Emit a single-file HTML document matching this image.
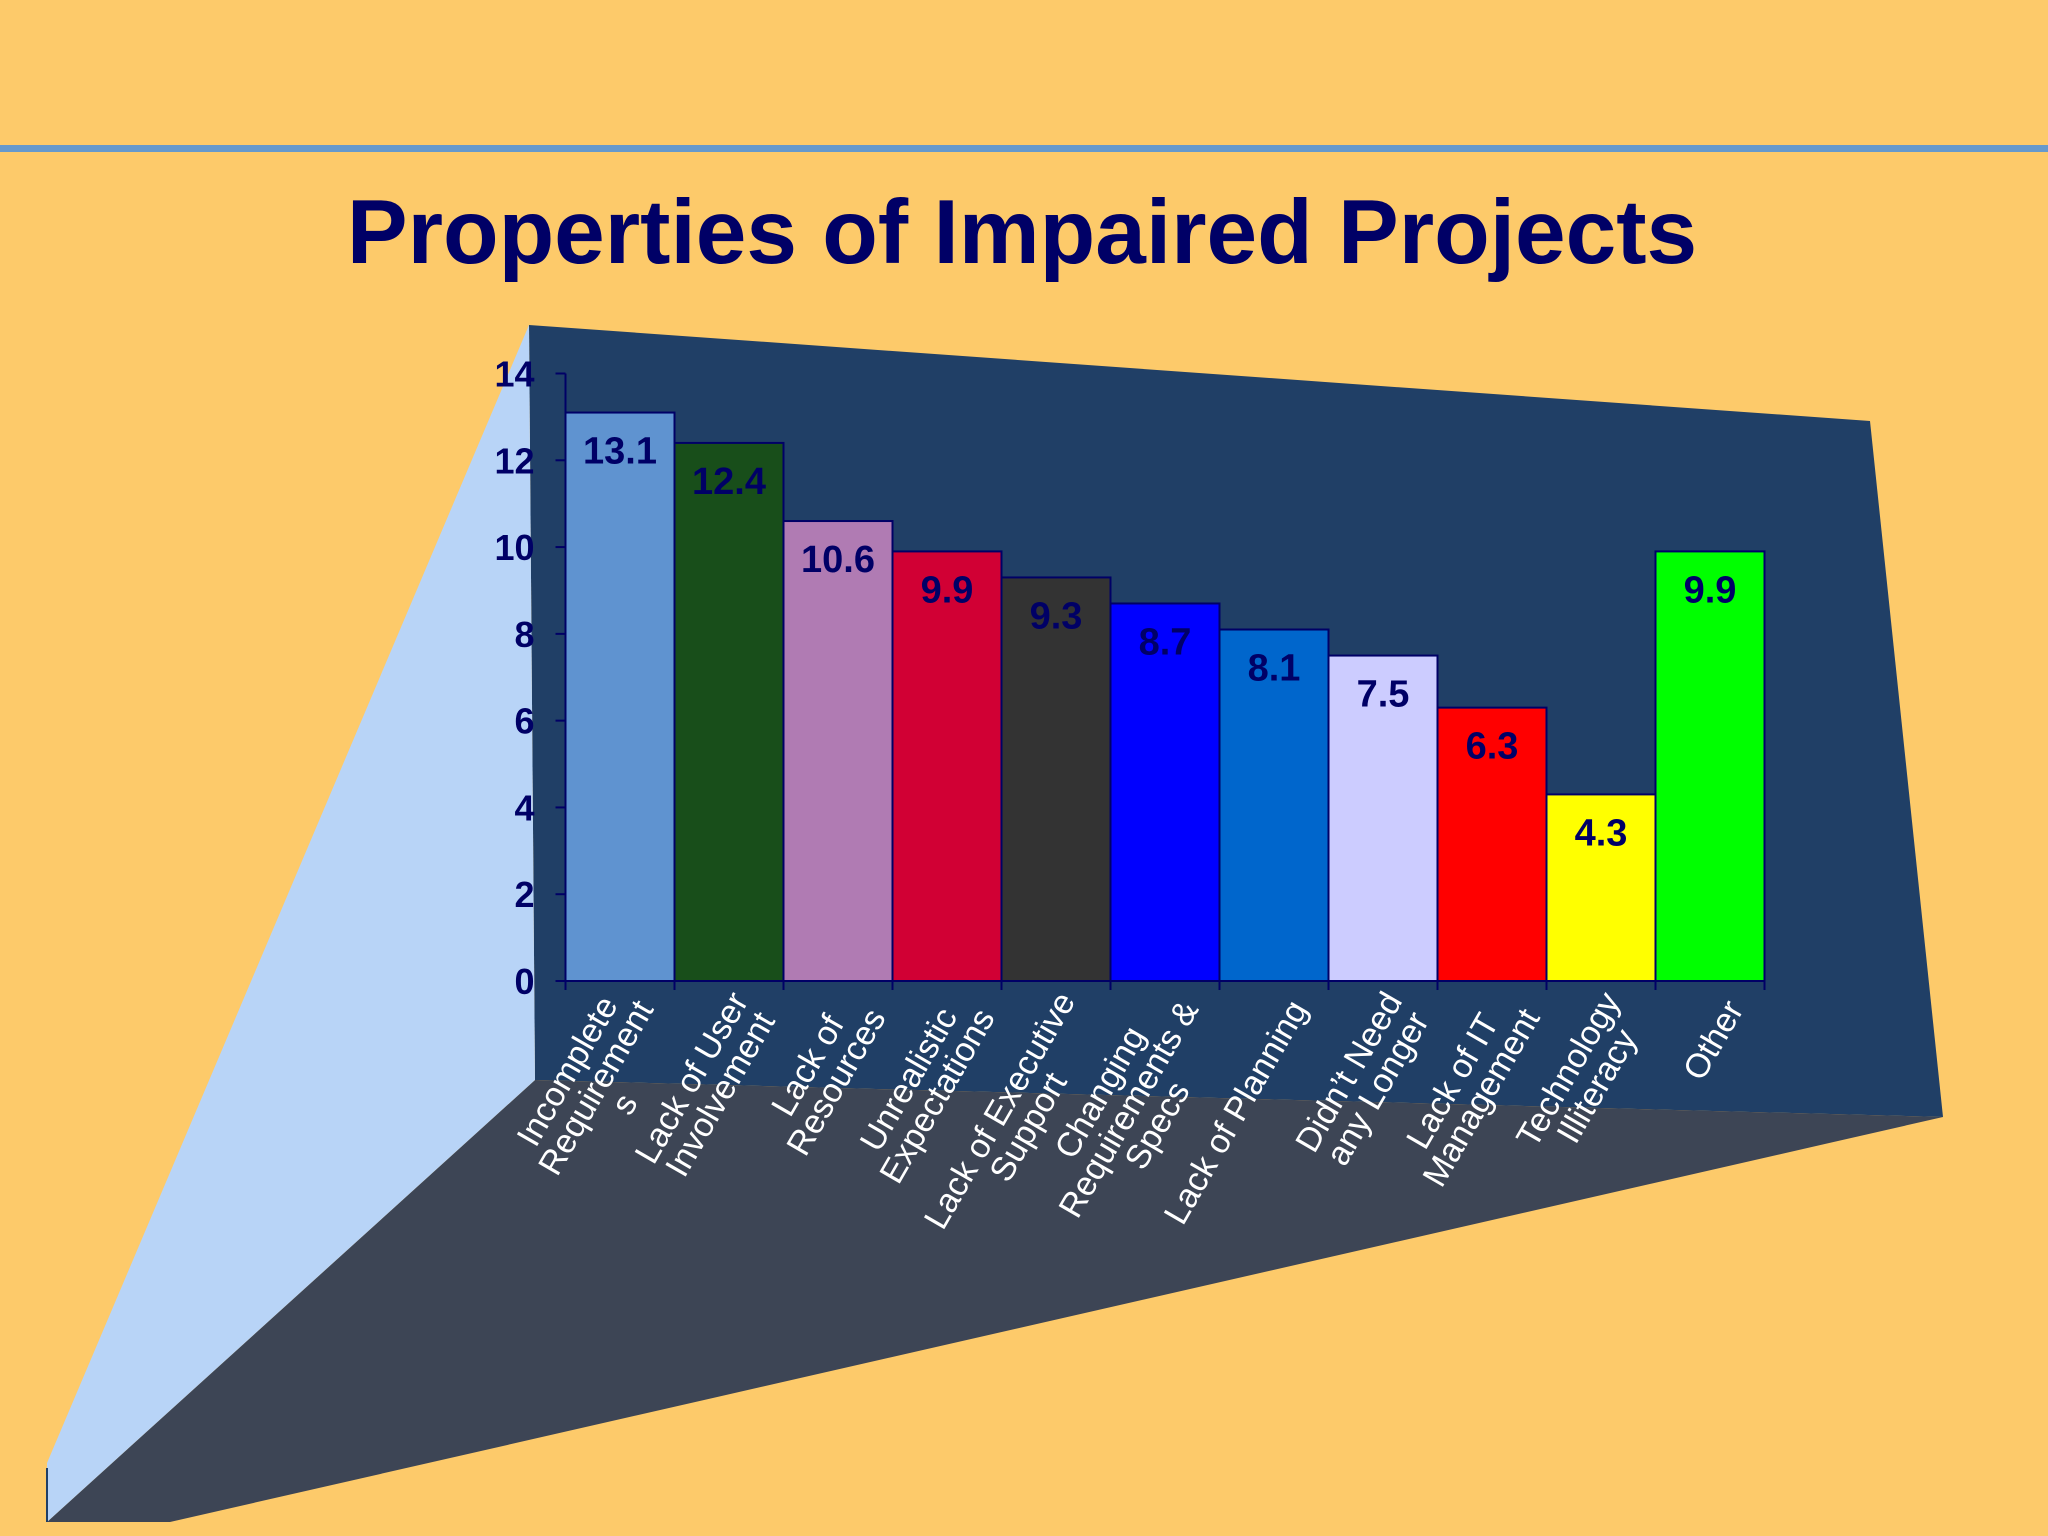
<!DOCTYPE html>
<html><head><meta charset="utf-8"><style>
html,body{margin:0;padding:0;background:#fdca6a;}
svg{display:block;}
</style></head><body>
<svg id="chart" width="2048" height="1536" viewBox="0 0 2048 1536" xmlns="http://www.w3.org/2000/svg">
<rect x="0" y="0" width="2048" height="1536" fill="#fdca6a"/>
<rect x="0" y="145" width="2048" height="7" fill="#6699cc"/>
<text x="1022" y="263" text-anchor="middle" font-family="Liberation Sans, sans-serif" font-weight="bold" font-size="91" fill="#000066">Properties of Impaired Projects</text>
<polygon points="529,325 1870,421 1943,1117 535,1080" fill="#203f66"/>
<polygon points="535,1080 1943,1117 170,1522 47,1522" fill="#3d4555"/>
<polygon points="529,325 47,1463 47,1522 535,1080" fill="#b8d4f7"/>
<line x1="47" y1="1468" x2="47" y2="1522" stroke="#203f66" stroke-width="2"/>
<g id="plot"></g>
</svg>
<script>
const categories = [["Incomplete","Requirement","s"],["Lack of User","Involvement"],["Lack of","Resources"],["Unrealistic","Expectations"],["Lack of Executive","Support"],["Changing","Requirements &","Specs"],["Lack of Planning"],["Didn\u2019t Need","any Longer"],["Lack of IT","Management"],["Technology","Illiteracy"],["Other"]];
const values = [13.1,12.4,10.6,9.9,9.3,8.7,8.1,7.5,6.3,4.3,9.9];
const valueLabels = ["13.1","12.4","10.6","9.9","9.3","8.7","8.1","7.5","6.3","4.3","9.9"];
const yTicks = [0,2,4,6,8,10,12,14];
const barColors = ["#5f93d0","#184e1a","#b07bb3","#d10034","#333333","#0000ff","#0066cc","#ccccff","#ff0000","#ffff00","#00ff00"];

const NS="http://www.w3.org/2000/svg";
const g=document.getElementById('plot');
const X0=565.5, X1=1764.5, Y0=981, Y1=373.5, YMAX=14;
const bw=(X1-X0)/categories.length;
function y(v){return Y0-(v/YMAX)*(Y0-Y1);}
function x(i){return X0+i*bw;}
function mk(tag,attrs){const e=document.createElementNS(NS,tag);for(const k in attrs)e.setAttribute(k,attrs[k]);g.appendChild(e);return e;}

values.forEach((v,i)=>{
  const r=mk('rect',{x:x(i),y:y(v),width:bw,height:Y0-y(v),fill:barColors[i],stroke:'#000066','stroke-width':2});
  
  
  const t=mk('text',{x:x(i)+bw/2,y:y(v)+51,'text-anchor':'middle','font-family':'Liberation Sans, sans-serif','font-weight':'bold','font-size':38,fill:'#000066'});
  t.textContent=valueLabels[i];
  
  
});
const ya=mk('line',{x1:X0,y1:Y1,x2:X0,y2:Y0,stroke:'#000066','stroke-width':2});


const xa=mk('line',{x1:X0-10,y1:Y0,x2:X1,y2:Y0,stroke:'#000066','stroke-width':2});


yTicks.forEach(v=>{
  const l=mk('line',{x1:X0-10,y1:y(v),x2:X0,y2:y(v),stroke:'#000066','stroke-width':2});
  
  
  const t=mk('text',{x:X0-31,y:y(v)+13,'text-anchor':'end','font-family':'Liberation Sans, sans-serif','font-weight':'bold','font-size':36,fill:'#000066'});
  t.textContent=v;
  
  
});
for(let i=0;i<=categories.length;i++){
  const l=mk('line',{x1:x(i),y1:Y0,x2:x(i),y2:Y0+9,stroke:'#000066','stroke-width':2});
  
  
}
const LH=33;
categories.forEach((lines,i)=>{
  const ax=x(i)+bw/2+24, ay=Y0+22;
  const grp=mk('g',{transform:`translate(${ax},${ay}) rotate(-60)`});
  
  
  const ts=[];
  lines.forEach((s,j)=>{
    const t=document.createElementNS(NS,'text');
    t.setAttribute('text-anchor','middle');
    t.setAttribute('font-family','Liberation Sans, sans-serif');
    t.setAttribute('font-size','34');
    t.setAttribute('fill','#ffffff');
    t.setAttribute('y',(j-(lines.length-1)/2)*LH+12);
    t.textContent=s;
    
    
    grp.appendChild(t);ts.push(t);
  });
  let w=0;ts.forEach(t=>{w=Math.max(w,t.getComputedTextLength());});
  ts.forEach(t=>t.setAttribute('x',-w/2));
});
</script>
</body></html>
